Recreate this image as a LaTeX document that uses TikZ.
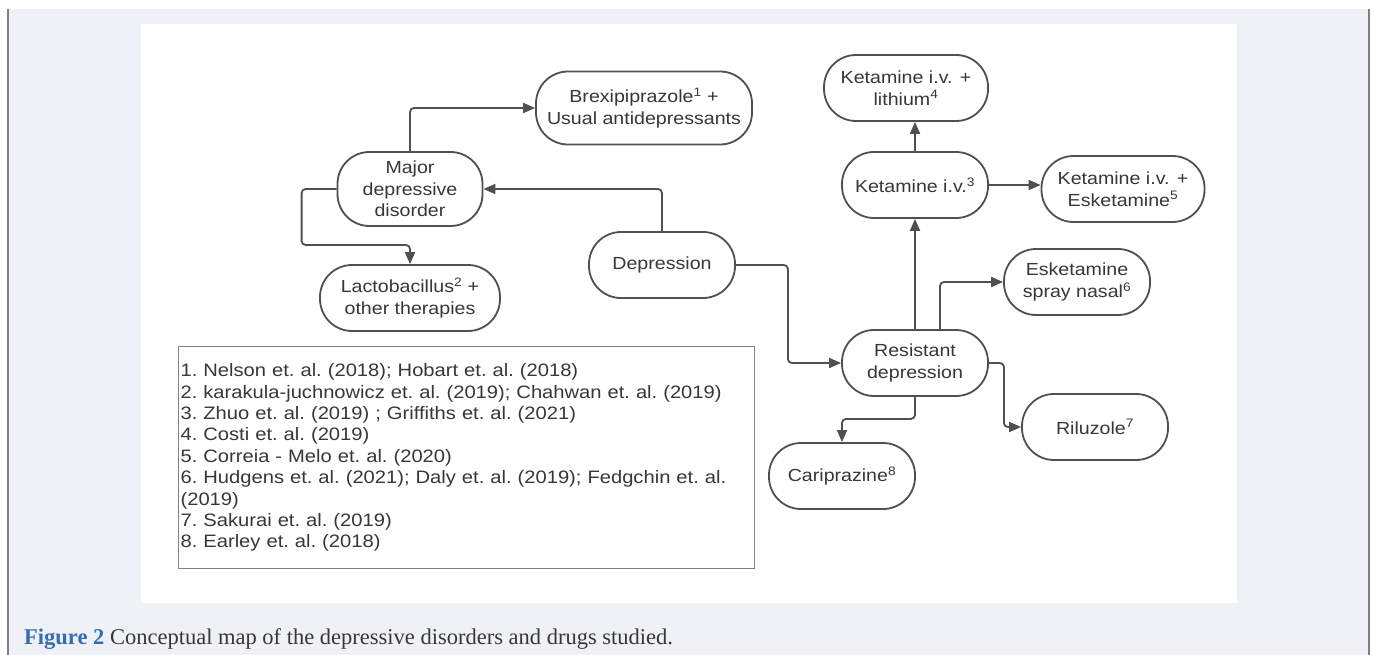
\documentclass[tikz,border=0pt]{standalone}
\usepackage{fontspec}
\setmainfont{Liberation Serif}
\setsansfont{Liberation Sans}[FakeStretch=1.12]
\usetikzlibrary{arrows.meta}

\definecolor{pagebg}{RGB}{240,241,247}
\definecolor{edgegray}{RGB}{80,80,80}
\definecolor{textgray}{RGB}{55,55,55}
\definecolor{figblue}{RGB}{52,110,178}

\begin{document}
\begin{tikzpicture}[x=1pt,y=-1pt,
    pill/.style={draw=edgegray,line width=1.8pt,rounded corners=32pt,align=center,
      font=\sffamily\fontsize{17.5}{21.5}\selectfont,text=textgray,
      minimum width=146pt,minimum height=66pt,inner sep=2pt},
    link/.style={draw=edgegray,line width=1.8pt,rounded corners=4pt,
      -{Triangle[length=12pt,width=10pt]}}]
  \useasboundingbox (0,0) rectangle (1375,655);
  \fill[white] (0,0) rectangle (1375,655);
  \fill[pagebg] (8,9) rectangle (1369,655);
  \draw[gray,line width=1.5pt] (8,9) -- (8,655);
  \draw[gray,line width=1.5pt] (1369,9) -- (1369,655);
  \fill[white] (141,24) rectangle (1237,603);
  % concept map
  \node[pill,minimum width=216pt,minimum height=73pt] (brexi) at (644,108) {Brexipiprazole\textsuperscript{1} +\\Usual antidepressants};
  \node[pill,minimum width=145pt,minimum height=74pt] (major) at (410,189) {Major\\depressive\\disorder};
  \node[pill,minimum width=180pt] (lacto) at (410,298) {Lactobacillus\textsuperscript{2} +\\other therapies};
  \node[pill] (depr) at (662,265) {Depression};
  \node[pill,minimum width=164pt] (ketli) at (906,88) {Ketamine i.v. +\\lithium\textsuperscript{4}};
  \node[pill] (ketiv) at (915,185) {Ketamine i.v.\textsuperscript{3}};
  \node[pill,minimum width=163pt] (ketesk) at (1123,189) {Ketamine i.v. +\\Esketamine\textsuperscript{5}};
  \node[pill] (spray) at (1077,282) {Esketamine\\spray nasal\textsuperscript{6}};
  \node[pill] (resist) at (915,363) {Resistant\\depression};
  \node[pill] (rilu) at (1095,427) {Riluzole\textsuperscript{7}};
  \node[pill] (cari) at (842,476) {Cariprazine\textsuperscript{8}};
  \draw[link] (major.north) |- (brexi.west);
  \draw[link] (depr.north) |- (major.east);
  \draw[link] (major.west) -- ++(-35,0) -- ++(0,56) -| (lacto.north);
  \draw[link] (depr.east) -- ++(52,0) |- (resist.west);
  \draw[link] (resist.north) -- (ketiv.south);
  \draw[link] (ketiv.north) -- (ketiv.north |- ketli.south);
  \draw[link] (ketiv.east) -- (ketiv.east -| ketesk.west);
  \draw[link] ([xshift=25pt]resist.north) |- (spray.west);
  \draw[link] (resist.east) -- ++(15,0) |- (rilu.west);
  \draw[link] (resist.south) -- ++(0,22) -| (cari.north);
  % references
  \node[draw=gray,line width=1.2pt,anchor=north west,minimum width=576pt,minimum height=222pt,
    text width=572pt,inner sep=1pt,align=left,text=textgray,
    font=\sffamily\fontsize{18}{21.4}\selectfont\frenchspacing] (refs) at (178,346)
    {1. Nelson et. al. (2018); Hobart et. al. (2018)\\
     2. karakula-juchnowicz et. al. (2019); Chahwan et. al. (2019)\\
     3. Zhuo et. al. (2019) ; Griffiths et. al. (2021)\\
     4. Costi et. al. (2019)\\
     5. Correia - Melo et. al. (2020)\\
     6. Hudgens et. al. (2021); Daly et. al. (2019); Fedgchin et. al.\\
     (2019)\\
     7. Sakurai et. al. (2019)\\
     8. Earley et. al. (2018)};
  % caption
  \node[anchor=base west,inner sep=0pt,text=textgray,font=\fontsize{22.5}{26}\selectfont\frenchspacing] (caption) at (24,644)
    {\textcolor{figblue}{\textbf{Figure 2}} Conceptual map of the depressive disorders and drugs studied.};
\end{tikzpicture}
\end{document}
